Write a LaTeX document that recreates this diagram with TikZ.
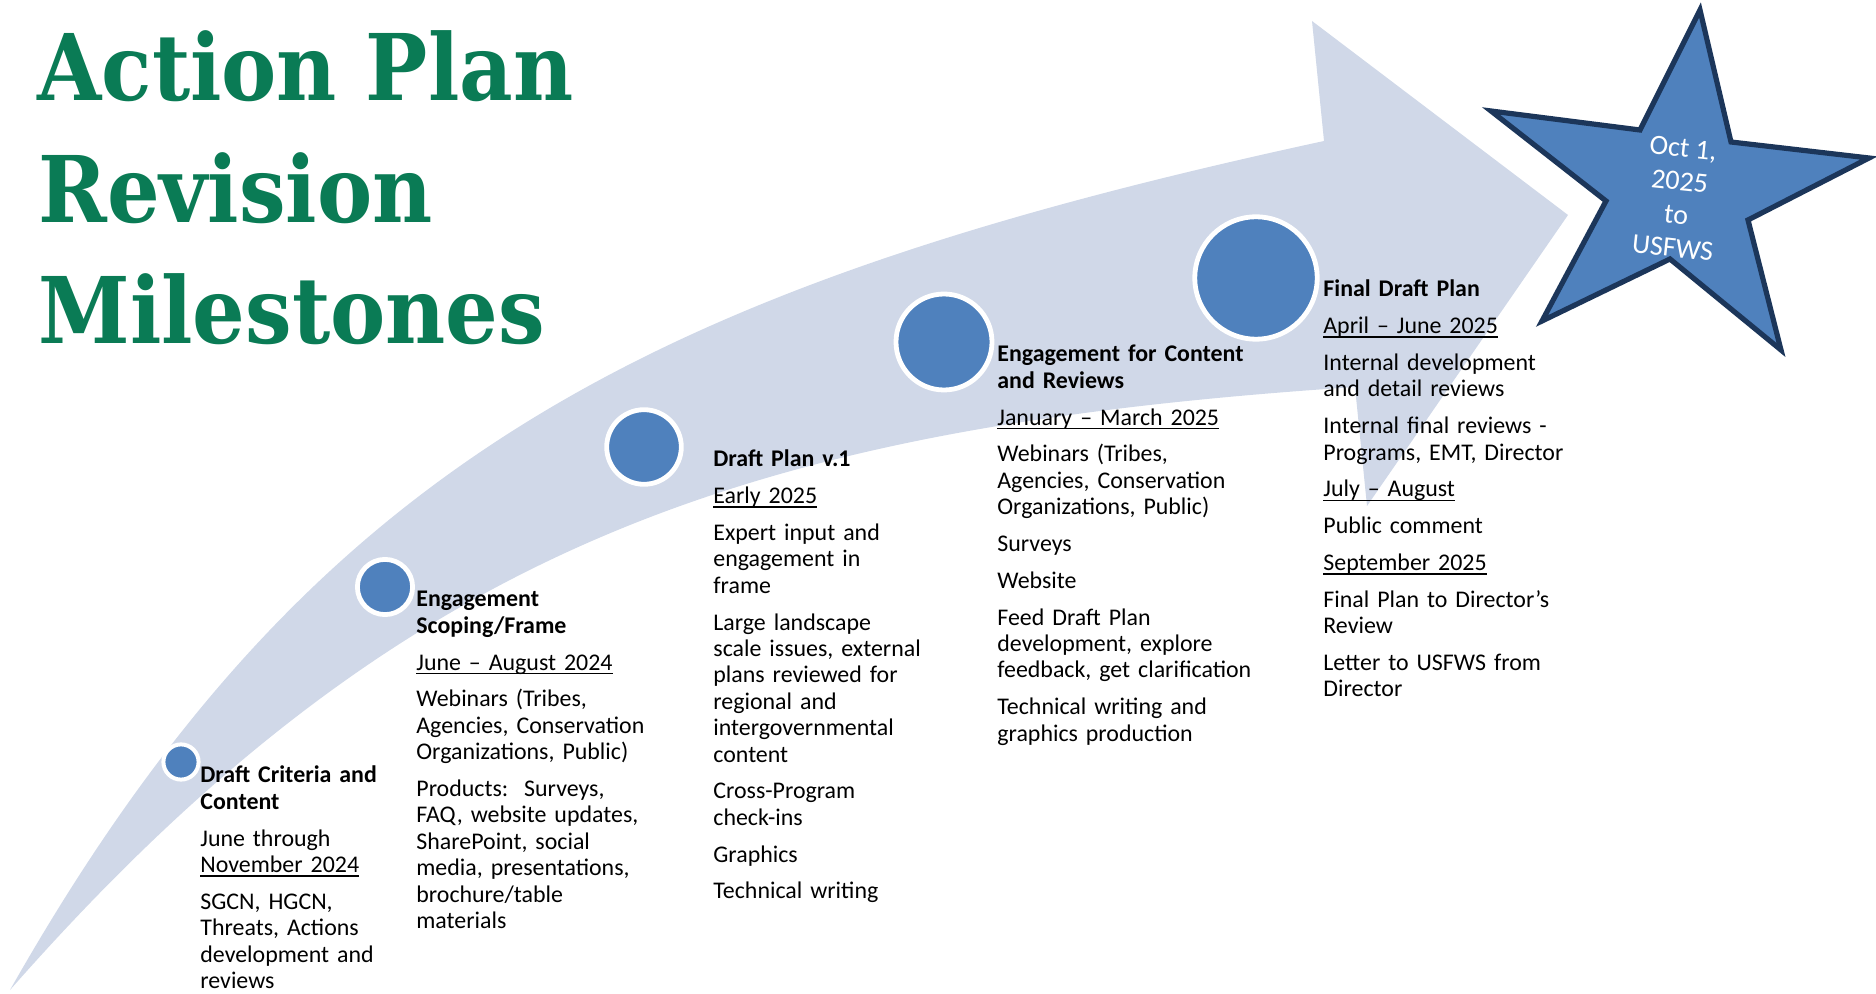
\documentclass[tikz,border=0pt]{standalone}
\usepackage{fontspec}
\setmainfont{Carlito}
\newfontfamily\titlefont{DejaVu Serif Condensed}
\definecolor{bandfill}{RGB}{208,216,232}
\definecolor{dotblue}{RGB}{79,129,189}
\definecolor{stardraw}{RGB}{28,54,90}
\definecolor{titlegreen}{RGB}{10,123,85}
\newcommand\ulx[1]{\leavevmode\setbox0=\hbox{#1}\rlap{\rule[-2.0pt]{\wd0}{0.7pt}}\box0}
\newcommand\pgap{\\[5.2pt]}
\begin{document}
\begin{tikzpicture}[x=0.5pt,y=-0.5pt,
  blk/.style={anchor=base west, inner sep=0pt, text width=190pt, align=left,
    font=\fontsize{11.95}{13.2}\selectfont},
  dot/.style={circle, inner sep=0pt, fill=dotblue, draw=white, line width=2.4pt},
  ttl/.style={anchor=base west, inner sep=0pt, text=titlegreen,
    font=\titlefont\bfseries\fontsize{46}{50}\selectfont},
  startext/.style={align=center, text=white, inner sep=0pt,
    font=\fontsize{14}{16.75}\selectfont}]
\useasboundingbox (0,0) rectangle (1876,994);

% curved arrow band
\fill[bandfill] (10,990) .. controls (306,468) and (640,289) .. (1324,141)
  -- (1312,21) -- (1568,215) -- (1367,506) -- (1355,387)
  .. controls (756,427) and (406,540) .. (10,990) -- cycle;

% milestone dots
\node[dot, line width=2pt, minimum size=17.6pt] (c1) at (181,762) {};
\node[dot, minimum size=27.6pt] (c2) at (385,587) {};
\node[dot, minimum size=37.3pt] (c3) at (644,447) {};
\node[dot, minimum size=48pt] (c4) at (944,342) {};
\node[dot, minimum size=61.2pt] (c5) at (1256,278) {};

% star
\filldraw[fill=dotblue, draw=stardraw, line width=2.6pt]
  (1700,10) -- (1731,142) -- (1869,158) -- (1748,220) -- (1781,350)
  -- (1670,259) -- (1542,321) -- (1606,201) -- (1491,111) -- (1640,130) -- cycle;
\node[startext, rotate=-6] (st) at (1678,198) {Oct 1,\\2025\\to\\USFWS};

% title
\node[ttl] (t1) at (37,101) {Action Plan};
\node[ttl] (t2) at (38,223) {Revision};
\node[ttl] (t3) at (38,344) {Milestones};

% text blocks
\node[blk] (b1) at (200,783) {\textbf{Draft Criteria and\\Content}\pgap
June through\\\ulx{November 2024}\pgap
SGCN, HGCN,\\Threats, Actions\\development and\\reviews};

\node[blk] (b2) at (416,607) {\textbf{Engagement\\Scoping/Frame}\pgap
\ulx{June -- August 2024}\pgap
Webinars (Tribes,\\Agencies, Conservation\\Organizations, Public)\pgap
Products:\ \ Surveys,\\FAQ, website updates,\\SharePoint, social\\media, presentations,\\brochure/table\\materials};

\node[blk] (b3) at (713,467) {\textbf{Draft Plan v.1}\pgap
\ulx{Early 2025}\pgap
Expert input and\\engagement in\\frame\pgap
Large landscape\\scale issues, external\\plans reviewed for\\regional and\\intergovernmental\\content\pgap
Cross-Program\\check-ins\pgap
Graphics\pgap
Technical writing};

\node[blk] (b4) at (997,362) {\textbf{Engagement for Content\\and Reviews}\pgap
\ulx{January -- March 2025}\pgap
Webinars (Tribes,\\Agencies, Conservation\\Organizations, Public)\pgap
Surveys\pgap
Website\pgap
Feed Draft Plan\\development, explore\\feedback, get clarification\pgap
Technical writing and\\graphics production};

\node[blk] (b5) at (1323,297) {\textbf{Final Draft Plan}\pgap
\ulx{April -- June 2025}\pgap
Internal development\\and detail reviews\pgap
Internal final reviews -\\Programs, EMT, Director\pgap
\ulx{July -- August}\pgap
Public comment\pgap
\ulx{September 2025}\pgap
Final Plan to Director’s\\Review\pgap
Letter to USFWS from\\Director};
\end{tikzpicture}
\end{document}
